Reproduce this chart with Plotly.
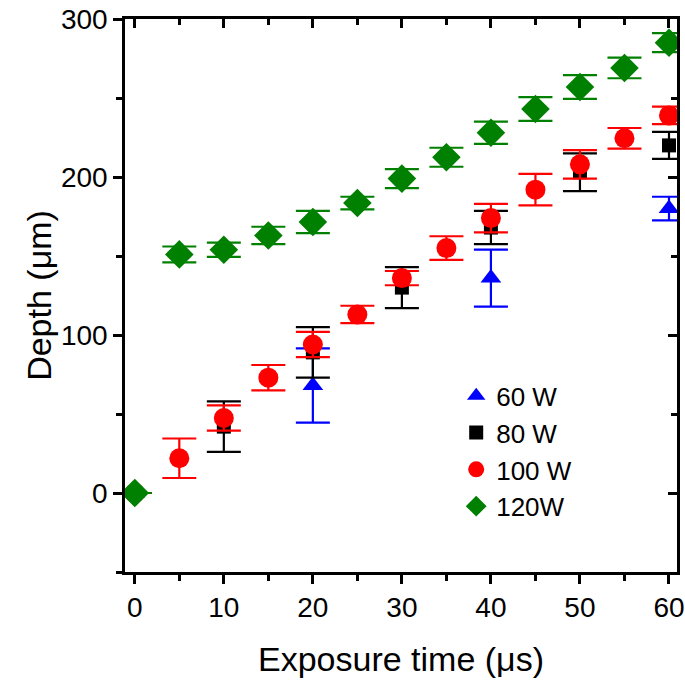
import plotly.graph_objects as go

# exposure time (us) and depth (um) per power
t60 = [0, 20, 40, 60]
d60 = [0, 68, 136, 180]
e60 = [0, 23.5, 18, 7.5]

t80 = [0, 10, 20, 30, 40, 50, 60]
d80 = [0, 42, 89, 130, 168, 203, 220]
e80 = [0, 16, 16, 13, 10.5, 12, 8.5]

t100 = [0, 5, 10, 15, 20, 25, 30, 35, 40, 45, 50, 55, 60]
d100 = [0, 22, 47.5, 73, 94, 113, 136, 155, 174, 192, 208, 224.5, 239]
e100 = [0, 12.5, 8, 8, 8, 5.5, 4.5, 7.5, 9, 10, 9, 6.5, 5.5]

t120 = [0, 5, 10, 15, 20, 25, 30, 35, 40, 45, 50, 55, 60]
d120 = [0, 151, 154, 163, 171.5, 183.5, 199, 212.5, 228, 243, 257, 269, 285]
e120 = [0, 5, 4.5, 5.5, 7, 4, 6, 6, 7, 7.5, 7.5, 6.5, 6]

series = [
    ("60 W", t60, d60, e60, "#0000FF", "triangle-up", 18),
    ("80 W", t80, d80, e80, "#000000", "square", 14),
    ("100 W", t100, d100, e100, "#FF0000", "circle", 20),
    ("120W", t120, d120, e120, "#008000", "diamond", 22),
]

fig = go.Figure()
for name, x, y, err, col, sym, sz in series:
    fig.add_trace(go.Scatter(
        x=x, y=y, name=name, mode="markers",
        marker=dict(color=col, symbol=sym, size=sz, line=dict(width=0)),
        error_y=dict(type="data", array=err, color=col, thickness=2.2, width=17),
    ))

# invisible helper so the mirrored top/right axes get drawn
fig.add_trace(go.Scatter(x=t120, y=d120, xaxis="x2", yaxis="y2", mode="markers",
                         marker=dict(opacity=0), showlegend=False, hoverinfo="skip"))

font = "Arial"
xr = [-1.1, 60.9]
yr = [-50, 300]
ax_common = dict(showgrid=False, zeroline=False, showline=True, linecolor="black",
                 linewidth=2.5, ticklen=9, tickwidth=2.5, tickcolor="black",
                 automargin=False)

fig.update_layout(
    width=685, height=685,
    margin=dict(l=125, r=8, t=19, b=113),
    plot_bgcolor="white", paper_bgcolor="white",
    font=dict(family=font, size=28, color="black"),
    showlegend=True,
    legend=dict(x=0.6, y=0.361, xanchor="left", yanchor="top",
                bgcolor="rgba(0,0,0,0)", font=dict(size=26),
                itemsizing="trace", tracegroupgap=0),
    xaxis=dict(
        range=xr, ticks="outside",
        tickvals=[0, 10, 20, 30, 40, 50, 60],
        minor=dict(tickvals=[5, 15, 25, 35, 45, 55], ticks="outside", ticklen=6, tickwidth=2.5, tickcolor="black"),
        tickfont=dict(size=28), ticklabeloverflow="allow",
        title=dict(text="Exposure time (\u03bcs)", font=dict(size=34), standoff=25),
        **ax_common,
    ),
    yaxis=dict(
        range=yr, ticks="outside",
        tickvals=[0, 100, 200, 300],
        minor=dict(tickvals=[-50, 50, 150, 250], ticks="outside", ticklen=6, tickwidth=2.5, tickcolor="black"),
        tickfont=dict(size=28), ticklabeloverflow="allow",
        title=dict(text="Depth (\u03bcm)", font=dict(size=34), standoff=0),
        **ax_common,
    ),
    xaxis2=dict(
        overlaying="x", side="top", anchor="y2", range=xr,
        showticklabels=False, ticks="inside",
        tickvals=[0, 10, 20, 30, 40, 50, 60],
        minor=dict(tickvals=[5, 15, 25, 35, 45, 55], ticks="inside", ticklen=6, tickwidth=2.5, tickcolor="black"),
        **ax_common,
    ),
    yaxis2=dict(
        overlaying="y", side="right", anchor="x2", range=yr,
        showticklabels=False, ticks="inside",
        tickvals=[0, 100, 200, 300],
        minor=dict(tickvals=[-50, 50, 150, 250], ticks="inside", ticklen=6, tickwidth=2.5, tickcolor="black"),
        **ax_common,
    ),
)

# drop the default 8px page margin so the figure fills the window
fig.write_html("out.html", config={"displayModeBar": False},
               post_script="document.body.style.margin='0';")
